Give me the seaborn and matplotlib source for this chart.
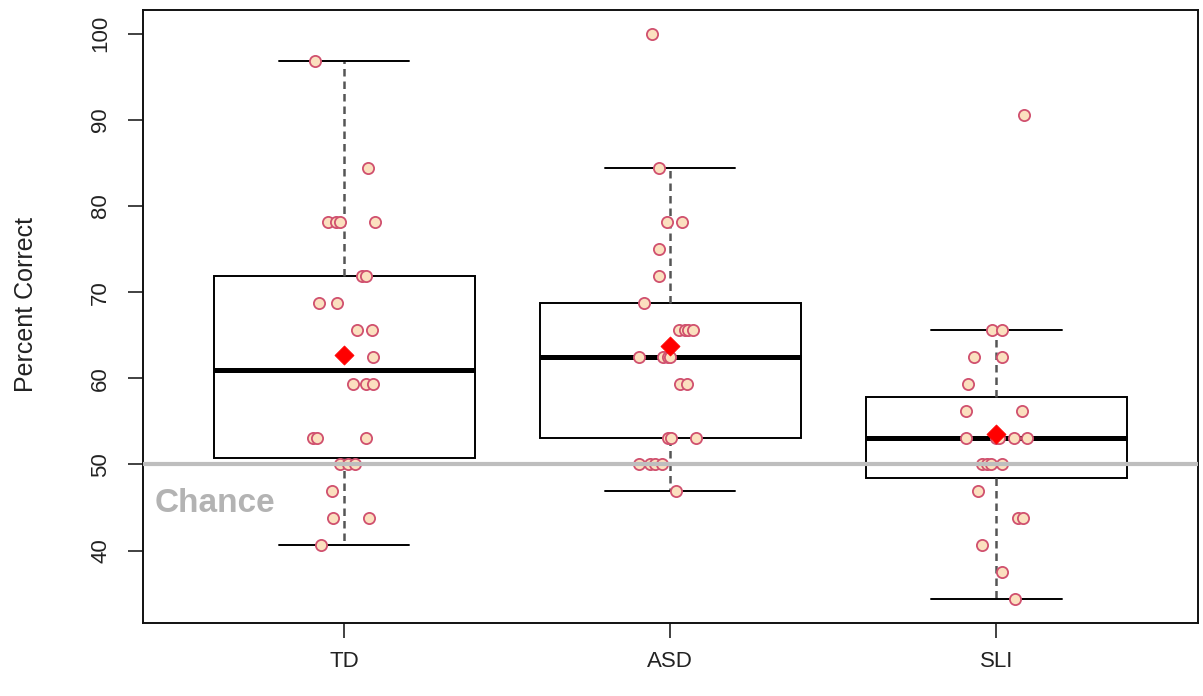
import numpy as np
import pandas as pd
import matplotlib
matplotlib.use("Agg")
import matplotlib.pyplot as plt
import seaborn as sns

# Dữ liệu (điểm phần trăm, bội số của 1/32)
groups = ["TD", "ASD", "SLI"]

td_scores = [96.875, 84.375, 78.125, 78.125, 78.125, 78.125, 71.875, 71.875,
             68.75, 68.75, 65.625, 65.625, 62.5, 59.375, 59.375, 59.375,
             53.125, 53.125, 53.125, 50, 50, 50, 46.875, 43.75, 43.75, 40.625]
td_jitter = [-0.089, 0.074, -0.049, -0.025, -0.012, 0.095, 0.055, 0.067,
             -0.077, -0.021, 0.040, 0.086, 0.089, 0.028, 0.067, 0.089,
             -0.095, -0.083, 0.067, -0.012, 0.012, 0.034, -0.037, -0.034, 0.077, -0.071]

asd_scores = [100, 84.375, 78.125, 78.125, 75, 71.875, 68.75,
              65.625, 65.625, 65.625, 65.625, 62.5, 62.5, 62.5, 62.5,
              59.375, 59.375, 53.125, 53.125, 53.125, 50, 50, 50, 50, 46.875]
asd_jitter = [-0.055, -0.034, -0.009, 0.037, -0.034, -0.034, -0.080,
              0.028, 0.046, 0.055, 0.071, -0.095, -0.021, -0.006, 0.0,
              0.031, 0.052, -0.006, 0.003, 0.080, -0.095, -0.061, -0.046, -0.025, 0.018]

sli_scores = [90.625, 65.625, 65.625, 62.5, 62.5, 59.375, 56.25, 56.25,
              53.125, 53.125, 53.125, 53.125, 53.125, 50, 50, 50, 50,
              46.875, 43.75, 43.75, 40.625, 37.5, 34.375]
sli_jitter = [0.086, -0.012, 0.018, -0.067, 0.018, -0.086, -0.092, 0.080,
              -0.092, 0.0, 0.009, 0.055, 0.095, -0.043, -0.028, -0.015, 0.018,
              -0.055, 0.067, 0.083, -0.043, 0.018, 0.058]

chance_level = 50

# Bảng dữ liệu dài
rows = []
for i, (g, sc, jt) in enumerate(zip(groups,
                                    [td_scores, asd_scores, sli_scores],
                                    [td_jitter, asd_jitter, sli_jitter])):
    for s, j in zip(sc, jt):
        rows.append({"group": g, "pos": i, "xj": i + j, "score": s})
df = pd.DataFrame(rows)
means = df.groupby("pos", as_index=False)["score"].mean()

sns.set_style("white")
plt.rcParams["font.family"] = ["Liberation Sans", "DejaVu Sans"]
plt.rcParams["text.color"] = "#222222"

fig = plt.figure(figsize=(12.03, 6.96), dpi=100)
ax = fig.add_axes([0.119, 0.105, 0.877, 0.881])

sns.boxplot(data=df, x="pos", y="score", native_scale=True, width=0.8,
            color="white", saturation=1, linecolor="black", linewidth=1.4,
            whis=1.5, showfliers=False, ax=ax,
            medianprops={"linewidth": 3.6},
            whiskerprops={"linestyle": (0, (3, 2)), "color": "#555555", "linewidth": 1.8},
            capprops={"color": "black"})

sns.scatterplot(data=df, x="xj", y="score", s=65, color="#FBE0BF",
                edgecolor="#D0506E", linewidth=1.3, zorder=4, ax=ax, legend=False)

ax.axhline(chance_level, color="#BEBEBE", linewidth=3, zorder=5)

sns.scatterplot(data=means, x="pos", y="score", marker="D", s=95,
                color="red", edgecolor="red", linewidth=0.5, zorder=6, ax=ax, legend=False)

ax.text(-0.58, 45.5, "Chance", color="#B3B3B3", fontsize=24, fontweight="bold",
        ha="left", va="center")

ax.set_xlim(-0.616, 2.619)
ax.set_ylim(31.6, 102.8)
ax.set_yticks([40, 50, 60, 70, 80, 90, 100])
ax.set_xticks([0, 1, 2])
ax.set_xticklabels(groups)
ax.set_xlabel("")
ax.set_ylabel("Percent Correct", fontsize=18, color="#222222")
ax.yaxis.set_label_coords(-0.100, 0.52)

for sp in ax.spines.values():
    sp.set_visible(True)
    sp.set_color("#111111")
    sp.set_linewidth(1.4)

ax.tick_params(axis="both", direction="out", length=11, width=1.3, color="#333333",
               labelsize=16, labelcolor="#222222", left=True, bottom=True)
ax.tick_params(axis="y", pad=12)
ax.tick_params(axis="x", pad=9)
for lab in ax.get_yticklabels():
    lab.set_rotation(90)
    lab.set_va("center")

fig.savefig("out.png", dpi=100)
